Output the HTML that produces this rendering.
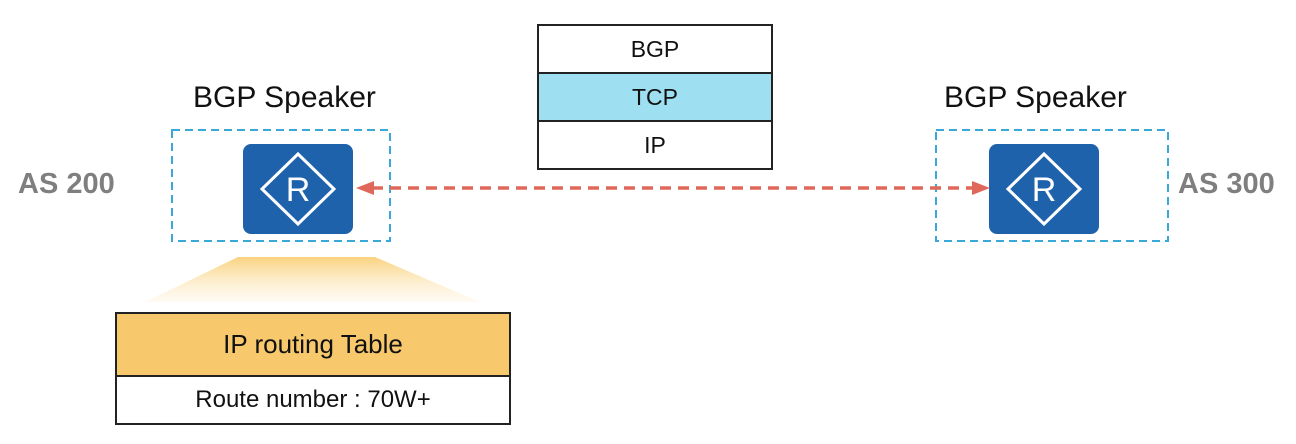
<!DOCTYPE html>
<html><head><style>
body{margin:0;width:1296px;height:444px;background:#fff;position:relative;overflow:hidden;font-family:"Liberation Sans",sans-serif}
.a{position:absolute}
.t{font-size:30px;color:#111}
.as{font-size:29px;font-weight:bold;color:#7f7f7f}
.cell{position:absolute;left:0;width:100%;display:flex;align-items:center;justify-content:center;font-size:23px;color:#111;box-sizing:border-box}
</style></head><body>
<div class="a t" style="left:193px;top:81px">BGP Speaker</div>
<div class="a t" style="left:944px;top:81px">BGP Speaker</div>
<div class="a as" style="left:18px;top:168px">AS 200</div>
<div class="a as" style="left:1178px;top:168px">AS 300</div>
<div class="a" style="left:537px;top:24px;width:236px;height:146px;border:2px solid #222;box-sizing:border-box">
 <div class="cell" style="top:0;height:48px;border-bottom:2px solid #222">BGP</div>
 <div class="cell" style="top:48px;height:48px;background:#9fdff2;border-bottom:2px solid #222">TCP</div>
 <div class="cell" style="top:96px;height:46px">IP</div>
</div>
<svg class="a" style="left:0;top:0" width="1296" height="444">
<defs><linearGradient id="g" x1="0" y1="0" x2="0" y2="1"><stop offset="0" stop-color="#f9d27e"/><stop offset="1" stop-color="#fdf0d8" stop-opacity="0.3"/></linearGradient></defs>
<rect x="172" y="130" width="218" height="111" fill="none" stroke="#3aa8d8" stroke-width="2" stroke-dasharray="8,5"/>
<rect x="936" y="130" width="232" height="111" fill="none" stroke="#3aa8d8" stroke-width="2" stroke-dasharray="8,5"/>
<polygon points="238,257 375,257 480,302 145,302" fill="url(#g)"/>
<g><rect x="243" y="144" width="110" height="90" rx="8" fill="#1f62ac"/>
<polygon points="298,154 334,189 298,224 262,189" fill="none" stroke="#fff" stroke-width="3"/>
<text x="298" y="201" font-size="34" fill="#fff" text-anchor="middle" font-family="Liberation Sans">R</text></g>
<g transform="translate(746,0)"><rect x="243" y="144" width="110" height="90" rx="8" fill="#1f62ac"/>
<polygon points="298,154 334,189 298,224 262,189" fill="none" stroke="#fff" stroke-width="3"/>
<text x="298" y="201" font-size="34" fill="#fff" text-anchor="middle" font-family="Liberation Sans">R</text></g>
<line x1="372" y1="188" x2="972" y2="188" stroke="#e0685a" stroke-width="3.5" stroke-dasharray="11,7"/>
<polygon points="356,188 374,181 374,195" fill="#e0685a"/>
<polygon points="990,188 972,181 972,195" fill="#e0685a"/>
</svg>
<div class="a" style="left:115px;top:312px;width:396px;height:113px;border:2px solid #222;box-sizing:border-box">
 <div class="cell" style="top:0;height:63px;background:#f8c96c;border-bottom:2px solid #222;font-size:26px">IP routing Table</div>
 <div class="cell" style="top:63px;height:46px;font-size:24px">Route number : 70W+</div>
</div>
</body></html>
